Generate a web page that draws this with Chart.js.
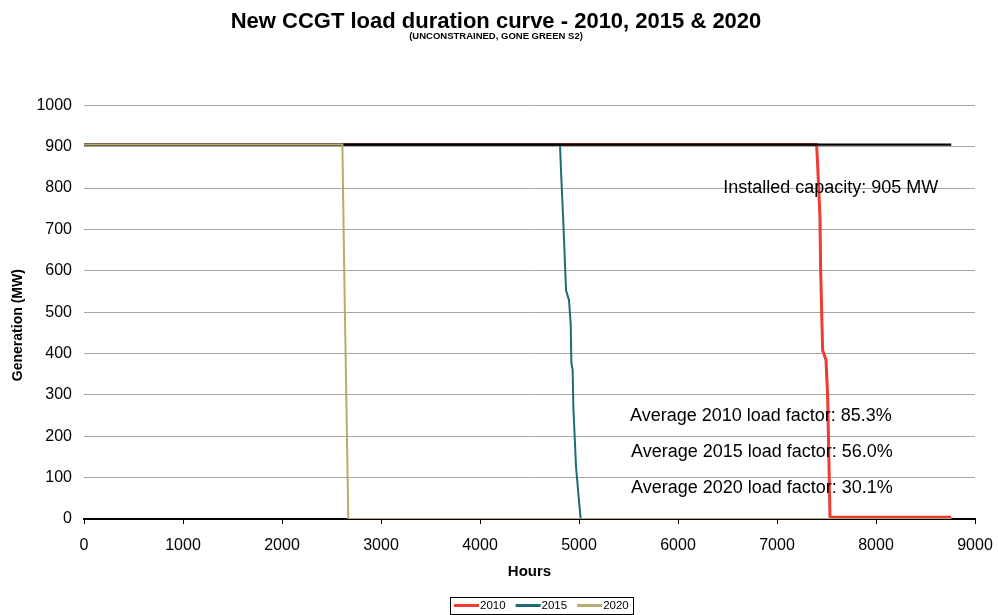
<!DOCTYPE html>
<html>
<head>
<meta charset="utf-8">
<title>New CCGT load duration curve</title>
<script src="https://cdn.jsdelivr.net/npm/chart.js@4.4.1/dist/chart.umd.min.js"></script>
<style>
  html, body { margin: 0; padding: 0; background: #ffffff; }
  #wrap { width: 998px; height: 615px; position: relative; }
</style>
</head>
<body>
<div id="wrap"><canvas id="ldc"></canvas></div>
<script>
// Load duration curves of the new CCGT unit (hours sorted by output, MW)
const installedCapacity = 905;

const hours2010 = [0, 7400, 7410, 7434, 7441, 7461, 7495, 7512, 7535, 7540, 8760];
const gen2010   = [905, 905, 859, 730, 601, 408, 384, 295, 6, 4, 4];

const hours2015 = [0, 4808, 4818, 4842, 4869, 4899, 4916, 4923, 4936, 4943, 4970, 4993, 5017, 8760];
const gen2015   = [905, 905, 843, 715, 553, 529, 473, 377, 360, 271, 126, 63, 0, 0];

const hours2020 = [0, 2610, 2630, 2670, 8760];
const gen2020   = [905, 905, 577, 0, 0];

const capacityHours = [0, 8760];

const seriesNames = ['2010', '2015', '2020'];
const loadFactors = [85.3, 56.0, 30.1];

const xTicks = [0, 1000, 2000, 3000, 4000, 5000, 6000, 7000, 8000, 9000];
const yTicks = [0, 100, 200, 300, 400, 500, 600, 700, 800, 900, 1000];

const FONT = '"Liberation Sans", Arial, Helvetica, sans-serif';
const colors = { '2010': '#ee3b30', '2015': '#1c6b76', '2020': '#b8ab6c' };

function points(xs, ys) {
  return xs.map((x, i) => ({ x: x, y: ys[i] }));
}

// Free text written onto the plot at data coordinates
const notes = [
  { text: 'Installed capacity: ' + installedCapacity + ' MW', x: 6457, y: 800 },
  { text: 'Average ' + seriesNames[0] + ' load factor: ' + loadFactors[0].toFixed(1) + '%', x: 5515, y: 250 },
  { text: 'Average ' + seriesNames[1] + ' load factor: ' + loadFactors[1].toFixed(1) + '%', x: 5525, y: 163 },
  { text: 'Average ' + seriesNames[2] + ' load factor: ' + loadFactors[2].toFixed(1) + '%', x: 5525, y: 75 }
];

const notesPlugin = {
  id: 'notes',
  afterDatasetsDraw(chart) {
    const ctx = chart.ctx;
    const xs = chart.scales.x, ys = chart.scales.y;
    ctx.save();
    ctx.font = '18px ' + FONT;
    ctx.fillStyle = '#000000';
    ctx.textAlign = 'left';
    ctx.textBaseline = 'middle';
    notes.forEach(n => ctx.fillText(n.text, xs.getPixelForValue(n.x), ys.getPixelForValue(n.y)));
    ctx.restore();
  }
};

// Vertical axis caption, set a little below the middle of the plot
const yCaption = {
  id: 'yCaption',
  afterDraw(chart) {
    const ctx = chart.ctx;
    const area = chart.chartArea;
    ctx.save();
    ctx.translate(18, (area.top + area.bottom) / 2 + 13);
    ctx.rotate(-Math.PI / 2);
    ctx.font = 'bold 14px ' + FONT;
    ctx.fillStyle = '#000000';
    ctx.textAlign = 'center';
    ctx.textBaseline = 'middle';
    ctx.fillText('Generation (MW)', 0, 0);
    ctx.restore();
  }
};

// Framed legend under the axis: a short line sample followed by the year
const framedLegend = {
  id: 'framedLegend',
  afterDraw(chart) {
    const ctx = chart.ctx;
    const entries = seriesNames.map(name => {
      const ds = chart.data.datasets.find(d => d.label === name);
      return { name: name, color: ds.borderColor };
    });
    ctx.save();
    ctx.font = '11.5px ' + FONT;
    ctx.textBaseline = 'middle';
    ctx.textAlign = 'left';
    const sample = 25, gap = 1, spacing = 10, inner = 4;
    let total = 0;
    entries.forEach((e, i) => {
      e.w = ctx.measureText(e.name).width;
      total += sample + gap + e.w + (i < entries.length - 1 ? spacing : 0);
    });
    const boxW = total + inner * 2;
    const boxH = 17;
    const left = Math.round((chart.chartArea.left + chart.chartArea.right) / 2 + 12 - boxW / 2);
    const top = 597;
    const cy = top + boxH / 2;
    ctx.strokeStyle = '#000000';
    ctx.lineWidth = 1;
    ctx.strokeRect(left + 0.5, top + 0.5, Math.round(boxW), boxH);
    let x = left + inner;
    entries.forEach(e => {
      ctx.strokeStyle = e.color;
      ctx.lineWidth = 3;
      ctx.beginPath();
      ctx.moveTo(x, cy);
      ctx.lineTo(x + sample, cy);
      ctx.stroke();
      ctx.fillStyle = '#000000';
      ctx.fillText(e.name, x + sample + gap, cy + 0.5);
      x += sample + gap + e.w + spacing;
    });
    ctx.restore();
  }
};

new Chart(document.getElementById('ldc'), {
  type: 'line',
  data: {
    datasets: [
      {
        label: seriesNames[2],
        data: points(hours2020, gen2020),
        borderColor: colors['2020'],
        borderWidth: 2, order: 0
      },
      {
        label: 'Installed capacity',
        data: points(capacityHours, capacityHours.map(() => installedCapacity)),
        borderColor: '#000000',
        borderWidth: 2.2, order: 1
      },
      {
        label: seriesNames[1],
        data: points(hours2015, gen2015),
        borderColor: colors['2015'],
        borderWidth: 2, order: 2
      },
      {
        label: seriesNames[0],
        data: points(hours2010, gen2010),
        borderColor: colors['2010'],
        borderWidth: 3, order: 3
      }
    ]
  },
  options: {
    responsive: true,
    maintainAspectRatio: false,
    animation: false,
    elements: { point: { radius: 0, hoverRadius: 0 }, line: { tension: 0 } },
    layout: { padding: { left: 0, right: 6, top: 0, bottom: 30 } },
    plugins: {
      title: {
        display: true,
        text: 'New CCGT load duration curve - 2010, 2015 & 2020',
        color: '#000000',
        font: { family: FONT, size: 22, weight: 'bold', lineHeight: 0.9 },
        padding: { top: 12, bottom: 0 }
      },
      subtitle: {
        display: true,
        text: '(UNCONSTRAINED, GONE GREEN S2)',
        color: '#000000',
        font: { family: FONT, size: 9.5, weight: 'bold', lineHeight: 1 },
        padding: { top: 0, bottom: 64 }
      },
      legend: { display: false },
      tooltip: { enabled: false }
    },
    scales: {
      x: {
        type: 'linear',
        min: 0, max: 9000,
        afterBuildTicks: s => { s.ticks = xTicks.map(v => ({ value: v })); },
        afterFit: s => { s.height = 66; s.paddingLeft = 0; s.paddingRight = 23; },
        grid: { display: true, drawOnChartArea: false, drawTicks: true, tickLength: 5, color: '#000000', lineWidth: 1 },
        border: { display: true, color: '#000000', width: 2 },
        ticks: { color: '#000000', font: { family: FONT, size: 16 }, padding: 12, maxRotation: 0, callback: v => String(v) },
        title: { display: true, text: 'Hours', color: '#000000', font: { family: FONT, size: 15, weight: 'bold' }, padding: { top: 4, bottom: 4 } }
      },
      y: {
        min: 0, max: 1000,
        afterBuildTicks: s => { s.ticks = yTicks.map(v => ({ value: v })); },
        afterFit: s => { s.width = 84; },
        grid: { color: '#a6a6a6', lineWidth: 1, drawTicks: false },
        border: { display: false },
        ticks: { color: '#000000', font: { family: FONT, size: 16 }, padding: 12, callback: v => String(v) }
      }
    }
  },
  plugins: [notesPlugin, yCaption, framedLegend]
});
</script>
</body>
</html>
